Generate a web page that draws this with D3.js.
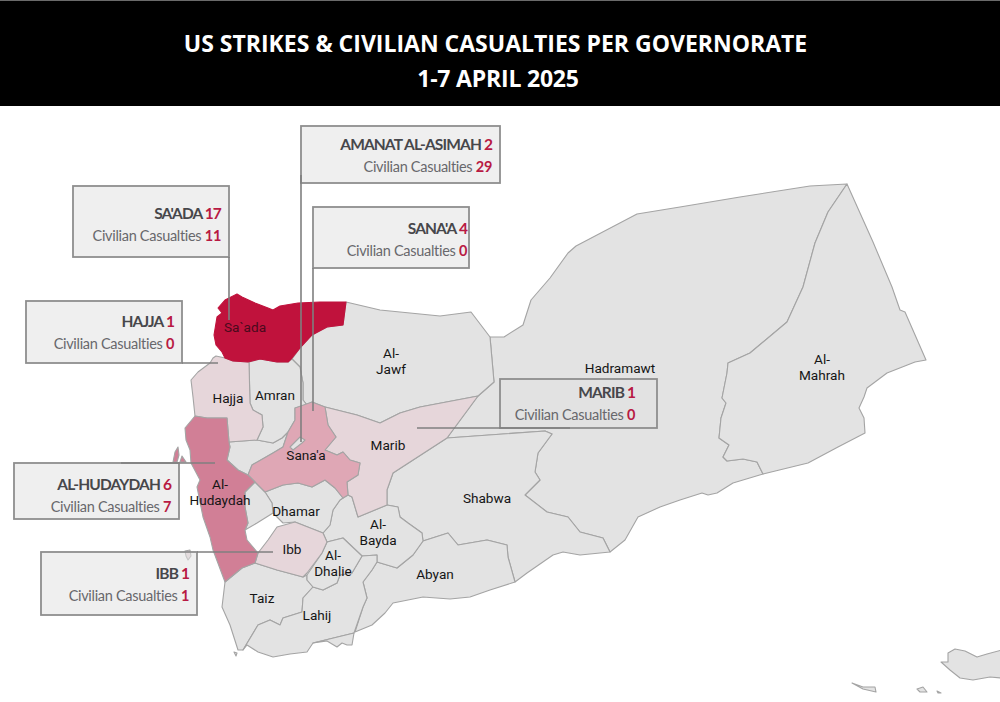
<!DOCTYPE html>
<html>
<head>
<meta charset="utf-8">
<script src="https://cdn.jsdelivr.net/npm/d3@7"></script>
<style>
    html, body { margin: 0; padding: 0; background: #fff; }
    svg { display: block; }
</style>
</head>
<body>
<svg id="chart" width="1000" height="702"></svg>
<script>
// callouts
const names = ["SA'ADA", 'HAJJA', 'AMANAT AL-ASIMAH', "SANA'A", 'MARIB', 'AL-HUDAYDAH', 'IBB'];
const strikes = [17, 1, 2, 4, 1, 6, 1];
const casualties = [11, 0, 29, 0, 0, 7, 1];
const boxes = [[73, 186, 229, 257], [26, 301, 182, 363], [301, 126, 500, 183], [313, 207, 469, 268], [500, 379, 657, 428], [14, 463, 179, 519], [41, 552, 197, 615]];
const textRight = [221, 174, 492, 467, 635, 171, 189];
const textBase = [219, 327, 150, 234, 398, 490, 579];
const leaders = [[229, 257, 229, 320], [182, 363, 218, 363], [301, 175, 301, 442], [313, 268, 313, 411], [417, 428, 570, 428], [121, 463, 215, 463], [197, 552, 273, 552]];

// governorate outlines
const hadramawt = [[490,337],[504,337],[523,325],[531,300],[550,278],[568,253],[576,246],[637,214],[680,207],[740,197],[810,186],[847,184],[828,212],[815,243],[803,287],[787,322],[750,353],[728,363],[727,373],[722,398],[726,403],[721,418],[719,438],[729,445],[723,457],[727,461],[743,459],[757,462],[763,474],[733,483],[717,493],[708,495],[702,493],[680,500],[660,507],[638,517],[625,540],[610,552],[603,538],[580,532],[568,517],[547,512],[525,495],[540,480],[535,472],[538,453],[552,434],[545,431],[447,438],[478,396],[494,382]];
const mahrah = [[847,184],[860,213],[873,242],[892,287],[900,310],[905,312],[926,360],[915,362],[887,373],[867,388],[864,397],[859,408],[864,418],[865,433],[838,447],[823,455],[808,463],[763,474],[757,462],[743,459],[727,461],[723,457],[729,445],[719,438],[721,418],[726,403],[722,398],[727,373],[728,363],[750,353],[787,322],[803,287],[815,243],[828,212]];
const jawf = [[346,302],[380,310],[440,316],[471,312],[490,337],[494,382],[478,396],[420,407],[400,413],[380,423],[357,415],[325,407],[312,402],[307,405],[303,400],[303,383],[300,367],[292,359],[300,348],[312,335],[327,327],[343,325]];
const saada = [[237,294],[225,300],[218,308],[222,313],[217,317],[214,335],[216,345],[222,352],[225,358],[233,361],[248,362],[260,359],[277,362],[288,362],[292,358],[300,348],[312,335],[327,327],[343,325],[346,302],[320,302],[298,303],[280,306],[273,310],[268,308],[255,303],[242,297]];
const hajja = [[225,358],[216,356],[213,358],[210,363],[198,372],[191,380],[193,397],[195,416],[207,418],[227,418],[229,442],[257,440],[263,427],[262,415],[253,410],[250,403],[249,362],[233,361]];
const amran = [[249,362],[260,359],[277,362],[288,362],[292,359],[300,367],[303,383],[303,400],[307,405],[295,408],[295,420],[288,432],[282,438],[273,443],[257,440],[263,427],[262,415],[253,410],[250,403]];
const sanaa = [[295,408],[312,402],[325,407],[328,425],[336,437],[325,450],[337,455],[343,452],[350,460],[360,463],[358,475],[347,482],[348,495],[343,498],[335,488],[325,480],[312,487],[298,483],[283,485],[265,492],[255,482],[248,475],[252,465],[273,453],[283,447],[288,432],[295,420]];
const amanat = [[290,447],[300,437],[305,440],[302,443],[293,450]];
const marib = [[325,407],[357,415],[380,423],[400,413],[420,407],[478,396],[447,438],[393,473],[387,490],[387,505],[358,517],[352,497],[348,495],[347,482],[358,475],[360,463],[350,460],[343,452],[337,455],[325,450],[336,437],[328,425]];
const shabwa = [[447,438],[545,431],[552,434],[538,453],[535,472],[540,480],[525,495],[547,512],[568,517],[580,532],[603,538],[610,552],[580,555],[563,552],[553,555],[527,573],[515,582],[508,557],[507,545],[487,540],[458,545],[448,533],[423,541],[422,533],[408,523],[400,517],[398,507],[387,505],[387,490],[393,473]];
const abyan = [[423,541],[448,533],[458,545],[487,540],[507,545],[508,557],[515,582],[490,590],[470,597],[450,599],[423,597],[393,603],[385,613],[372,625],[355,632],[363,607],[367,598],[363,582],[372,570],[377,562],[397,568],[413,555]];
const bayda = [[358,517],[387,505],[398,507],[400,517],[408,523],[422,533],[423,541],[413,555],[397,568],[377,562],[377,555],[362,556],[343,538],[327,542],[323,533],[330,525],[333,510],[340,500],[343,498],[348,495],[352,497]];
const dhamar = [[265,492],[283,485],[298,483],[312,487],[325,480],[335,488],[343,498],[340,500],[333,510],[330,525],[323,533],[295,522],[283,523],[273,513],[272,503]];
const raymah = [[255,482],[265,492],[272,503],[273,513],[257,523],[245,530],[248,523],[245,507],[245,492]];
const mahwit = [[229,442],[257,440],[273,443],[282,438],[288,432],[283,447],[273,453],[252,465],[248,475],[238,470],[227,460],[230,447]];
const hudaydah = [[195,416],[185,428],[186,440],[190,450],[191,463],[200,480],[197,487],[203,517],[210,537],[213,550],[225,582],[242,568],[255,563],[258,553],[247,540],[245,530],[248,523],[245,507],[245,492],[255,482],[248,475],[238,470],[227,460],[230,447],[229,442],[227,418],[207,418]];
const ibb = [[295,522],[277,527],[268,540],[258,553],[255,563],[277,570],[303,577],[307,573],[322,553],[327,542],[323,533]];
const dhalie = [[307,575],[307,580],[313,587],[323,590],[337,583],[340,575],[352,573],[362,556],[343,538],[327,542],[322,553]];
const taiz = [[225,582],[222,607],[230,625],[238,650],[243,650],[258,625],[270,620],[280,625],[283,618],[302,612],[303,598],[313,587],[307,580],[307,575],[303,577],[277,570],[255,563],[242,568]];
const lahij = [[323,590],[337,583],[340,575],[352,573],[362,556],[377,555],[377,562],[372,570],[363,582],[367,598],[363,607],[354,633],[313,643],[307,652],[290,654],[273,657],[258,652],[247,645],[243,650],[258,625],[270,620],[280,625],[283,618],[302,612],[303,598],[313,587]];
const aden = [[313,643],[354,633],[352,645],[347,645],[342,643],[337,647],[327,641]];
const socotra = [[941,662],[948,662],[948,653],[955,649],[965,651],[977,657],[987,654],[1002,650],[1002,678],[990,677],[973,680],[960,678],[950,670]];
const abdAlKuri = [[852,683],[863,687],[875,687],[876,692],[863,689]];
const samha = [[917,689],[923,687],[927,692],[920,692]];
const darsah = [[937,691],[941,693],[938,693]];
const tip = [[234,652],[237,653],[236,656]];
const kamaran = [[173,462],[175,452],[178,447],[179,455],[177,462]];
const kamaran2 = [[180,462],[182,456],[186,462]];
const hanish = [[185,551],[190,550],[191,556],[188,560],[186,556]];

const areas = [hadramawt, mahrah, jawf, shabwa, abyan, bayda, dhamar, raymah, mahwit, amran, taiz, lahij, dhalie, aden, socotra, abdAlKuri, samha, darsah, tip, hajja, marib, ibb, sanaa, amanat, hudaydah, kamaran, kamaran2, saada, hanish];
const areaStrikes = [0, 0, 0, 0, 0, 0, 0, 0, 0, 0, 0, 0, 0, 0, 0, 0, 0, 0, 0, 1, 1, 1, 4, 0, 6, 6, 6, 17, 1];

// map labels
const labelLines = [['Sa`ada'], ['Hajja'], ['Amran'], ['Al-', 'Jawf'], ['Hadramawt'], ['Al-', 'Mahrah'], ['Marib'], ["Sana'a"], ['Al-', 'Hudaydah'], ['Dhamar'], ['Ibb'], ['Al-', 'Bayda'], ['Al-', 'Dhalie'], ['Shabwa'], ['Abyan'], ['Taiz'], ['Lahij']];
const labelX = [245, 228, 275, 391, 620, 822, 388, 306, 220, 296, 292, 378, 333, 487, 435, 262, 317];
const labelY = [327, 398, 395, 353, 368, 359, 445, 455, 484, 511, 549, 524, 555, 498, 574, 598, 615];

const svg = d3.select('#chart');

svg.append('rect').attr('width', 1000).attr('height', 106).attr('fill', '#000');
svg.append('rect').attr('width', 1000).attr('height', 1).attr('fill', '#6a6a6a');
svg.selectAll('.title')
    .data(['US STRIKES & CIVILIAN CASUALTIES PER GOVERNORATE', '1-7 APRIL 2025'])
    .join('text')
    .attr('class', 'title')
    .attr('x', (d, i) => i == 0 ? 495.5 : 498)
    .attr('y', (d, i) => i == 0 ? 51.5 : 87)
    .attr('text-anchor', 'middle')
    .attr('fill', '#fff')
    .style('font', '700 23px "Open Sans"')
    .style('letter-spacing', (d, i) => i == 0 ? '0' : '-0.2px')
    .text(d => d);

// shade follows the strike count
let color = d3.scaleOrdinal()
    .domain([0, 1, 4, 6, 17])
    .range(['#e3e3e3', '#e6d6da', '#dfa7b5', '#d17f96', '#c0123c']);

let path = d3.geoPath(d3.geoIdentity());

svg.append('g').selectAll('path')
    .data(areas.map((a, i) => ({ type: 'Feature', properties: { strikes: areaStrikes[i] }, geometry: { type: 'Polygon', coordinates: [a.concat([a[0]])] } })))
    .join('path')
    .attr('d', path)
    .attr('fill', d => color(d.properties.strikes))
    .attr('stroke', d => d.properties.strikes == 17 ? '#c0123c' : '#a4a4a4')
    .attr('stroke-width', 1.1)
    .attr('stroke-linejoin', 'round');

svg.selectAll('.label')
    .data(labelLines)
    .join('text')
    .attr('class', 'label')
    .attr('text-anchor', 'middle')
    .attr('fill', (d, i) => i == 0 ? '#4a0a1c' : '#151515')
    .style('font', '13.6px Roboto')
    .each(function (lines, i) {
        d3.select(this).selectAll('tspan')
            .data(lines)
            .join('tspan')
            .attr('x', labelX[i])
            .attr('y', (d, j) => labelY[i] + 4.5 + j * 16)
            .text(d => d);
    });

// boxes sit over the map and let it show through
let callouts = svg.selectAll('.callout')
    .data(names)
    .join('g')
    .attr('class', 'callout');

callouts.append('rect')
    .attr('x', (d, i) => boxes[i][0])
    .attr('y', (d, i) => boxes[i][1])
    .attr('width', (d, i) => boxes[i][2] - boxes[i][0])
    .attr('height', (d, i) => boxes[i][3] - boxes[i][1])
    .attr('fill', '#e2e2e2')
    .attr('fill-opacity', 0.54)
    .attr('stroke', '#8e8e8e')
    .attr('stroke-width', 1.8);

callouts.append('line')
    .attr('x1', (d, i) => leaders[i][0])
    .attr('y1', (d, i) => leaders[i][1])
    .attr('x2', (d, i) => leaders[i][2])
    .attr('y2', (d, i) => leaders[i][3])
    .attr('stroke', '#7f7f7f')
    .attr('stroke-width', 1.6);

let first = callouts.append('text')
    .attr('x', (d, i) => textRight[i])
    .attr('y', (d, i) => textBase[i])
    .attr('text-anchor', 'end')
    .style('font', '700 15.5px Lato')
    .style('letter-spacing', '-0.87px');
first.append('tspan').attr('fill', '#47474b').text(d => d + ' ');
first.append('tspan').attr('fill', '#b81a43').text((d, i) => strikes[i]);

let second = callouts.append('text')
    .attr('x', (d, i) => textRight[i])
    .attr('y', (d, i) => textBase[i] + 22)
    .attr('text-anchor', 'end')
    .style('font', '400 14.5px Lato')
    .style('letter-spacing', '-0.3px');
second.append('tspan').attr('fill', '#68686c').text('Civilian Casualties ');
second.append('tspan').attr('fill', '#b81a43').style('font-weight', 700).text((d, i) => casualties[i]);
</script>
</body>
</html>
